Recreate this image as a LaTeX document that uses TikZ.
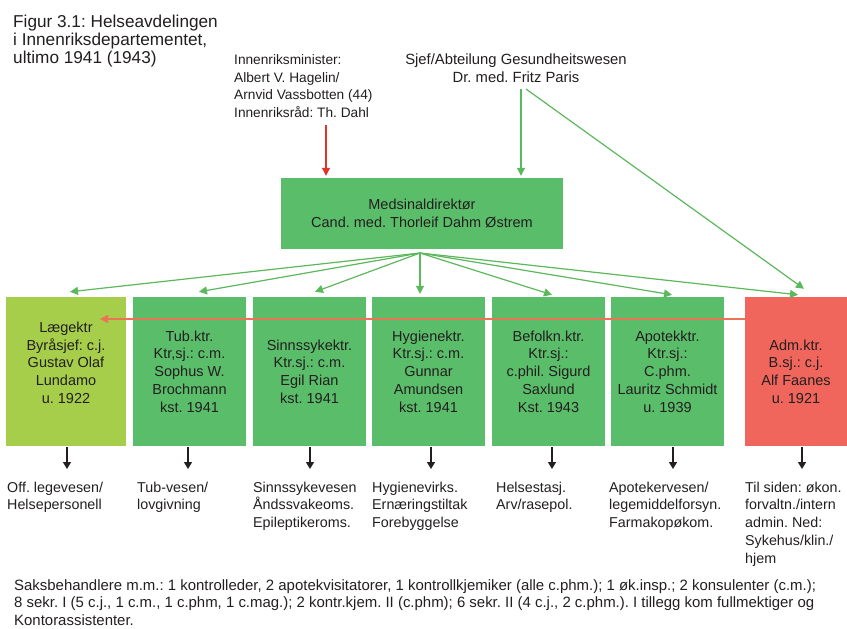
\documentclass[tikz,border=0pt]{standalone}
\usepackage{fontspec}
\setmainfont{Liberation Sans}
\usetikzlibrary{arrows.meta,calc}
\definecolor{boxgreen}{RGB}{90,189,106}
\definecolor{boxlight}{RGB}{166,206,74}
\definecolor{boxred}{RGB}{240,102,92}
\definecolor{arrgreen}{RGB}{92,184,92}
\definecolor{arrred}{RGB}{224,52,42}
\definecolor{arrorange}{RGB}{234,116,84}
\definecolor{txt}{RGB}{35,31,32}
\frenchspacing
\begin{document}
\begin{tikzpicture}[x=1pt,y=-1pt,
  every node/.style={text=txt,inner sep=0pt},
  unit/.style={minimum width=113pt,minimum height=149pt,align=center,
    font=\fontsize{14.5}{17.7}\selectfont},
  greenunit/.style={unit,fill=boxgreen},
  garrow/.style={draw=arrgreen,line width=1.2pt,-{Triangle[length=8pt,width=8pt]}},
  rarrow/.style={draw=arrred,line width=1.2pt,-{Triangle[length=8pt,width=8pt]}},
  oarrow/.style={draw=arrorange,line width=1.6pt,-{Triangle[length=8pt,width=8pt]}},
  karrow/.style={draw=txt,line width=1.4pt,-{Triangle[length=7pt,width=8pt]}},
  sublabel/.style={anchor=north west,align=left,font=\fontsize{14.3}{17.8}\selectfont}]
\useasboundingbox[fill=white] (0,0) rectangle (847,629);

% title
\node[anchor=north west,align=left,font=\fontsize{17.2}{18.3}\selectfont] (title) at (13,14.4)
  {Figur 3.1: Helseavdelingen\\i Innenriksdepartementet,\\ultimo 1941 (1943)};

% top persons
\node[anchor=north west,align=left,font=\fontsize{13.7}{17.8}\selectfont] (min) at (234,54.2)
  {Innenriksminister:\\Albert V. Hagelin/\\Arnvid Vassbotten (44)\\Innenriksråd: Th. Dahl};
\node[anchor=north,align=center,font=\fontsize{14.8}{18}\selectfont] (paris) at (516,53.4)
  {Sjef/Abteilung Gesundheitswesen\\Dr. med. Fritz Paris};

% director
\node[fill=boxgreen,minimum width=282pt,minimum height=71pt,align=center,
  font=\fontsize{14.5}{18}\selectfont] (med) at (422,213.5)
  {Medsinaldirektør\\Cand. med. Thorleif Dahm Østrem};

% units
\node[unit,fill=boxlight,minimum width=120pt] (u1) at (66,371.5)
  {Lægektr\\Byråsjef: c.j.\\Gustav Olaf\\Lundamo\\u. 1922\\\mbox{}};
\node[greenunit] (u2) at (189.5,371.5)
  {Tub.ktr.\\Ktr,sj.: c.m.\\Sophus W.\\Brochmann\\kst. 1941};
\node[greenunit] (u3) at (309.5,371.5)
  {Sinnssykektr.\\Ktr.sj.: c.m.\\Egil Rian\\kst. 1941};
\node[greenunit] (u4) at (428.5,371.5)
  {Hygienektr.\\Ktr.sj.: c.m.\\Gunnar\\Amundsen\\kst. 1941};
\node[greenunit] (u5) at (548.5,371.5)
  {Befolkn.ktr.\\Ktr.sj.:\\c.phil. Sigurd\\Saxlund\\Kst. 1943};
\node[greenunit] (u6) at (667.5,371.5)
  {Apotekktr.\\Ktr.sj.:\\C.phm.\\Lauritz Schmidt\\u. 1939};
\node[unit,fill=boxred,minimum width=102pt] (u7) at (796,371.5)
  {Adm.ktr.\\B.sj.: c.j.\\Alf Faanes\\u. 1921};

% connectors from above
\coordinate (minout) at (326,125);
\draw[rarrow,shorten >=2pt] (minout) -- (minout |- med.north);
\coordinate (parout) at (521,89);
\draw[garrow,shorten >=2pt] (parout) -- (parout |- med.north);
\coordinate (parout2) at (526,89);
\draw[garrow] (parout2) -- ([xshift=8pt,yshift=8pt]u7.north);

% fan out
\coordinate (hub) at (420,253);
\draw[garrow] (hub) -- ([xshift=4pt,yshift=5pt]u1.north);
\draw[garrow] (hub) -- ([xshift=9.5pt,yshift=5pt]u2.north);
\draw[garrow] (hub) -- ([xshift=5.5pt,yshift=5pt]u3.north);
\draw[garrow] (hub) -- ([xshift=-8.5pt,yshift=3pt]u4.north);
\draw[garrow] (hub) -- ([xshift=3.5pt,yshift=2pt]u5.north);
\draw[garrow] (hub) -- ([xshift=4.5pt,yshift=2pt]u6.north);
\draw[garrow] (hub) -- ([xshift=2pt,yshift=2pt]u7.north);

% horizontal arrow
\coordinate (htip) at (100,319);
\draw[oarrow] (u7.west |- htip) -- (htip);

% lower labels
\node[sublabel] (l1) at (7,481.5) {Off. legevesen/\\Helsepersonell};
\node[sublabel] (l2) at (137,481.5) {Tub-vesen/\\lovgivning};
\node[sublabel] (l3) at (253,481.5) {Sinnssykevesen\\Åndssvakeoms.\\Epileptikeroms.};
\node[sublabel] (l4) at (372,481.5) {Hygienevirks.\\Ernæringstiltak\\Forebyggelse};
\node[sublabel] (l5) at (496,481.5) {Helsestasj.\\Arv/rasepol.};
\node[sublabel] (l6) at (609,481.5) {Apotekervesen/\\legemiddelforsyn.\\Farmakopøkom.};
\node[sublabel] (l7) at (745,481.5) {Til siden: økon.\\forvaltn./intern\\admin. Ned:\\Sykehus/klin./\\hjem};

\foreach \i/\x in {1/67,2/188,3/310,4/431,5/552,6/673,7/802}{
  \coordinate (d\i) at (\x,447);
  \draw[karrow] (d\i) -- (\x,469);
}

% footnote
\node[anchor=north west,align=left,font=\fontsize{14.95}{17.9}\selectfont] (note) at (14,579)
  {Saksbehandlere m.m.: 1 kontrolleder, 2 apotekvisitatorer, 1 kontrollkjemiker (alle c.phm.); 1 øk.insp.; 2 konsulenter (c.m.);\\
   8 sekr. I (5 c.j., 1 c.m., 1 c.phm, 1 c.mag.); 2 kontr.kjem. II (c.phm); 6 sekr. II (4 c.j., 2 c.phm.). I tillegg kom fullmektiger og\\
   Kontorassistenter.};
\end{tikzpicture}
\end{document}
